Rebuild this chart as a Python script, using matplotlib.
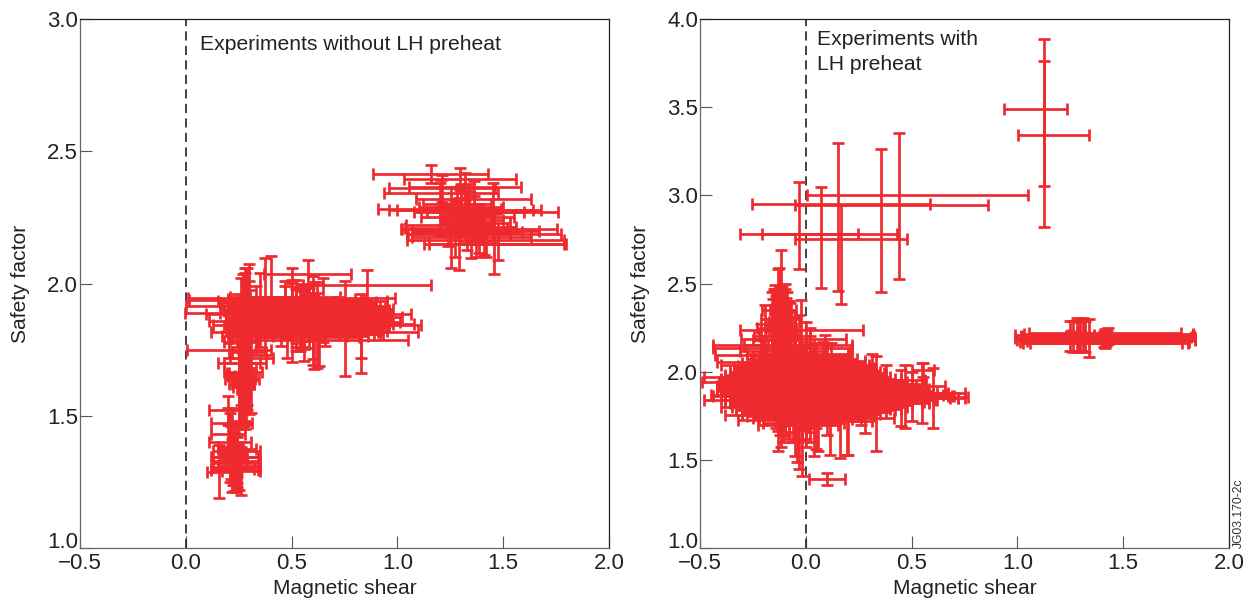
import matplotlib
matplotlib.use('Agg')
import matplotlib.pyplot as plt

plt.rcParams['font.family'] = ['Liberation Sans', 'DejaVu Sans']

RED = '#ee2a2e'
INK = '#222222'
W, H = 1256, 603

# ---- left panel: without LH preheat ----
upper_x = [1.157, 1.295, 1.21, 1.205, 1.32, 1.36, 1.2, 1.3, 1.34, 1.45, 1.255, 1.27, 1.29, 1.417, 1.455, 1.474, 1.385, 1.41, 1.24, 1.33,
           1.28, 1.3, 1.32, 1.34, 1.36, 1.38, 1.4, 1.37, 1.33, 1.35, 1.31]
upper_y = [2.413, 2.394, 2.36, 2.341, 2.366, 2.318, 2.28, 2.278, 2.278, 2.269, 2.211, 2.205, 2.187, 2.165, 2.15, 2.148, 2.205, 2.187, 2.22, 2.25,
           2.3, 2.29, 2.26, 2.27, 2.24, 2.23, 2.215, 2.2, 2.195, 2.175, 2.24]
upper_xerr = [0.27, 0.265, 0.25, 0.27, 0.265, 0.27, 0.29, 0.34, 0.34, 0.31, 0.22, 0.25, 0.24, 0.37, 0.33, 0.325, 0.37, 0.365, 0.2, 0.22,
              0.16, 0.2, 0.12, 0.26, 0.14, 0.15, 0.16, 0.3, 0.26, 0.28, 0.1]
upper_yerr = [0.034, 0.042, 0.05, 0.05, 0.05, 0.07, 0.1, 0.1, 0.1, 0.11, 0.154, 0.106, 0.136, 0.063, 0.113, 0.06, 0.09, 0.08, 0.08, 0.1,
              0.06, 0.08, 0.1, 0.06, 0.09, 0.07, 0.06, 0.1, 0.07, 0.08, 0.05]

lower_x = [0.576, 0.857, 0.5, 0.3, 0.27, 0.28, 0.58, 0.62, 0.607, 0.63, 0.204, 0.28, 0.27,
           0.402, 0.374, 0.35, 0.298, 0.24, 0.28, 0.33, 0.47, 0.52, 0.72, 0.83, 0.83, 0.75, 0.6, 0.65,
           0.55, 0.5, 0.56, 0.6, 0.52, 0.58, 0.62, 0.54, 0.6, 0.66, 0.45, 0.5, 0.56, 0.48, 0.58,
           0.265, 0.27, 0.255, 0.3, 0.25, 0.26, 0.31, 0.29]
lower_y = [2.035, 1.994, 1.947, 1.937, 1.915, 1.889, 1.884, 1.843, 1.817, 1.788, 1.748, 1.698, 1.666,
           1.95, 1.912, 1.9, 1.87, 1.86, 1.89, 1.86, 1.9, 1.87, 1.88, 1.81, 1.82, 1.83, 1.86, 1.9,
           1.935, 1.925, 1.915, 1.905, 1.895, 1.885, 1.875, 1.865, 1.855, 1.845, 1.835, 1.825, 1.808, 1.8, 1.87,
           1.64, 1.62, 1.66, 1.74, 1.7, 1.78, 1.72, 1.8]
lower_xerr = [0.207, 0.303, 0.488, 0.285, 0.27, 0.285, 0.485, 0.49, 0.49, 0.42, 0.197, 0.1, 0.09,
              0.1, 0.12, 0.09, 0.11, 0.13, 0.12, 0.14, 0.2, 0.25, 0.14, 0.1, 0.12, 0.12, 0.2, 0.16,
              0.4, 0.34, 0.39, 0.38, 0.34, 0.39, 0.4, 0.35, 0.41, 0.42, 0.27, 0.31, 0.36, 0.28, 0.38,
              0.08, 0.05, 0.06, 0.08, 0.1, 0.08, 0.1, 0.12]
lower_yerr = [0.052, 0.056, 0.11, 0.135, 0.12, 0.17, 0.1, 0.164, 0.14, 0.1, 0.028, 0.09, 0.05,
              0.154, 0.183, 0.14, 0.14, 0.1, 0.15, 0.13, 0.11, 0.11, 0.07, 0.15, 0.1, 0.18, 0.17, 0.12,
              0.06, 0.09, 0.07, 0.1, 0.12, 0.06, 0.09, 0.11, 0.14, 0.08, 0.07, 0.12, 0.1, 0.08, 0.06,
              0.18, 0.16, 0.2, 0.235, 0.22, 0.24, 0.21, 0.26]

# solid core of the left cluster
core_y = [1.95, 1.943, 1.936, 1.929, 1.922, 1.915, 1.908, 1.901, 1.894, 1.887, 1.88, 1.873, 1.866, 1.859, 1.852, 1.845, 1.838, 1.831, 1.824, 1.817, 1.81, 1.803, 1.796]
core_x = [0.47, 0.5, 0.52, 0.55, 0.55, 0.56, 0.57, 0.58, 0.58, 0.58, 0.58, 0.6, 0.58, 0.6, 0.58, 0.6, 0.58, 0.58, 0.56, 0.56, 0.55, 0.54, 0.52]
core_xerr = [0.26, 0.3, 0.32, 0.35, 0.35, 0.36, 0.37, 0.38, 0.38, 0.38, 0.38, 0.37, 0.38, 0.37, 0.38, 0.38, 0.38, 0.37, 0.36, 0.35, 0.34, 0.32, 0.3]
core_yerr = [0.04, 0.06, 0.05, 0.07, 0.05, 0.06, 0.08, 0.05, 0.07, 0.06, 0.05, 0.08, 0.06, 0.05, 0.07, 0.06, 0.08, 0.05, 0.07, 0.06, 0.05, 0.06, 0.05]

column_x = [0.25, 0.258, 0.266, 0.274, 0.282, 0.29, 0.262, 0.278, 0.254, 0.27, 0.286]
column_y = [1.65, 1.64, 1.66, 1.63, 1.65, 1.68, 1.62, 1.64, 1.61, 1.6, 1.62]
column_xerr = [0.05, 0.04, 0.06, 0.04, 0.05, 0.04, 0.06, 0.05, 0.03, 0.03, 0.03]
column_yerr = [0.19, 0.17, 0.2, 0.17, 0.17, 0.16, 0.16, 0.19, 0.14, 0.13, 0.15]

bottom_x = [0.2, 0.218, 0.21, 0.24, 0.23, 0.24, 0.25, 0.155, 0.22, 0.23, 0.24, 0.21, 0.2, 0.26,
            0.215, 0.222, 0.23, 0.238, 0.24, 0.235, 0.24, 0.24]
bottom_y = [1.521, 1.471, 1.4, 1.368, 1.345, 1.33, 1.31, 1.288, 1.3, 1.295, 1.35, 1.38, 1.43, 1.29,
            1.36, 1.35, 1.34, 1.33, 1.32, 1.345, 1.375, 1.305]
bottom_xerr = [0.09, 0.097, 0.1, 0.11, 0.11, 0.11, 0.1, 0.055, 0.1, 0.11, 0.05, 0.06, 0.08, 0.09,
               0.05, 0.05, 0.05, 0.05, 0.11, 0.11, 0.09, 0.11]
bottom_yerr = [0.055, 0.06, 0.07, 0.09, 0.09, 0.06, 0.09, 0.1, 0.09, 0.08, 0.12, 0.13, 0.1, 0.09,
               0.1, 0.11, 0.1, 0.12, 0.1, 0.05, 0.05, 0.06]

# ---- right panel: with LH preheat, separate points have lopsided bars ----
sparse_x = [1.125, 1.125, 0.441, 0.15, 0.355, -0.033, 0.071, 0.164]
sparse_y = [3.492, 3.343, 3.0, 2.953, 2.948, 2.779, 2.779, 2.751]
sparse_xlo = [0.936, 1.005, 0.006, -0.252, -0.052, -0.312, -0.208, -0.049]
sparse_xhi = [1.235, 1.338, 1.048, 0.586, 0.862, 0.429, 0.246, 0.479]
sparse_ylo = [3.055, 2.823, 2.528, 2.46, 2.454, 2.585, 2.477, 2.386]
sparse_yhi = [3.889, 3.759, 3.356, 3.294, 3.265, 3.078, 3.05, 2.944]

band_x = [1.415, 1.43, 1.41, 1.425, 1.42, 1.415, 1.43, 1.42, 1.425, 1.41, 1.42, 1.415]
band_y = [2.222, 2.216, 2.21, 2.204, 2.198, 2.192, 2.186, 2.18, 2.175, 2.17, 2.165, 2.162]
band_xerr = [0.36, 0.4, 0.42, 0.41, 0.4, 0.425, 0.41, 0.42, 0.38, 0.4, 0.36, 0.39]
band_yerr = [0.02, 0.03, 0.02, 0.025, 0.03, 0.02, 0.03, 0.025, 0.02, 0.03, 0.02, 0.03]

stem_x = [1.262, 1.28, 1.295, 1.31, 1.337, 1.32, 1.29, 1.25]
stem_y = [2.2, 2.21, 2.195, 2.21, 2.19, 2.2, 2.205, 2.205]
stem_xerr = [0.03, 0.04, 0.03, 0.05, 0.03, 0.04, 0.03, 0.02]
stem_yerr = [0.09, 0.093, 0.085, 0.093, 0.107, 0.09, 0.095, 0.085]

blob_x = [-0.022, -0.11, -0.058, -0.11, -0.11, -0.11, -0.1, -0.15, -0.1, -0.13, -0.12, -0.13, -0.1, -0.1, -0.038,
          0.35, 0.37, 0.33, 0.27, 0.25, 0.18, 0.26, 0.552, 0.098,
          -0.118, -0.128, -0.13, -0.145, -0.15, -0.14, -0.191, -0.21, -0.1, -0.12, -0.08, -0.13, -0.09, -0.11,
          0.09, 0.315, 0.27, 0.38, 0.47, 0.45, 0.5, 0.6, 0.55, 0.28, 0.33, 0.2, 0.16, 0.113, 0.197,
          -0.041, -0.03, -0.02, -0.118, -0.05, 0.0, 0.05, 0.1, 0.0, 0.05, 0.02, -0.03, 0.04, -0.05, 0.08, 0.12, 0.02, -0.08, 0.06]
blob_y = [2.239, 2.149, 2.188, 2.132, 2.094, 2.056, 2.037, 1.97, 1.943, 1.867, 1.84, 1.801, 1.754, 1.725, 1.697,
          1.858, 1.85, 1.878, 1.87, 1.88, 1.9, 1.83, 2.009, 1.394,
          2.35, 2.35, 2.3, 2.2, 2.18, 2.25, 2.15, 2.12, 2.2, 2.1, 2.15, 2.0, 2.0, 1.95,
          2.02, 1.95, 1.93, 1.92, 1.86, 1.85, 1.86, 1.85, 1.88, 1.84, 1.82, 1.79, 1.75, 1.72, 1.74,
          1.8, 1.78, 1.75, 1.78, 1.95, 1.98, 1.92, 1.9, 1.87, 1.84, 2.05, 2.02, 1.77, 1.82, 2.0, 1.96, 1.9, 1.86, 1.8]
blob_xerr = [0.29, 0.327, 0.25, 0.33, 0.32, 0.31, 0.3, 0.33, 0.39, 0.32, 0.36, 0.27, 0.28, 0.22, 0.19,
             0.415, 0.38, 0.33, 0.4, 0.42, 0.3, 0.3, 0.052, 0.085,
             0.05, 0.08, 0.08, 0.1, 0.1, 0.09, 0.1, 0.1, 0.12, 0.16, 0.12, 0.2, 0.16, 0.18,
             0.22, 0.25, 0.3, 0.28, 0.22, 0.23, 0.17, 0.12, 0.2, 0.33, 0.25, 0.2, 0.15, 0.2, 0.22,
             0.1, 0.14, 0.12, 0.1, 0.35, 0.34, 0.34, 0.42, 0.4, 0.43, 0.2, 0.2, 0.22, 0.3, 0.2, 0.16, 0.44, 0.36, 0.34]
blob_yerr = [0.17, 0.1, 0.12, 0.14, 0.13, 0.14, 0.15, 0.1, 0.16, 0.12, 0.14, 0.14, 0.1, 0.09, 0.09,
             0.06, 0.08, 0.07, 0.12, 0.16, 0.11, 0.13, 0.04, 0.034,
             0.34, 0.24, 0.28, 0.29, 0.28, 0.22, 0.23, 0.15, 0.3, 0.32, 0.25, 0.45, 0.3, 0.35,
             0.19, 0.15, 0.085, 0.12, 0.18, 0.16, 0.14, 0.17, 0.17, 0.19, 0.27, 0.26, 0.24, 0.19, 0.21,
             0.31, 0.33, 0.34, 0.21, 0.35, 0.3, 0.24, 0.26, 0.3, 0.28, 0.2, 0.3, 0.25, 0.3, 0.17, 0.2, 0.3, 0.2, 0.25]

# solid core of the right cluster
mass_y = [2.1, 2.09, 2.08, 2.07, 2.06, 2.05, 2.04, 2.03, 2.02, 2.01, 2.0, 1.99, 1.98, 1.97, 1.96, 1.95, 1.94, 1.93, 1.92, 1.91,
          1.9, 1.89, 1.88, 1.87, 1.86, 1.85, 1.84, 1.83, 1.82, 1.81, 1.8, 1.79, 1.78, 1.77, 1.76, 1.75, 1.74, 1.73, 1.71]
mass_x = [0.0, -0.025, 0.0, -0.02, 0.01, -0.01, 0.0, -0.01, -0.01, -0.005, -0.005, 0.005, 0.0, 0.01, 0.01, 0.025, 0.035, 0.05, 0.05, 0.065,
          0.09, 0.09, 0.11, 0.135, 0.16, 0.18, 0.12, 0.11, 0.095, 0.075, 0.065, 0.06, 0.045, 0.04, 0.025, 0.02, 0.015, 0.0, -0.01]
mass_xerr = [0.2, 0.225, 0.22, 0.26, 0.27, 0.29, 0.3, 0.31, 0.33, 0.335, 0.355, 0.365, 0.38, 0.39, 0.41, 0.425, 0.445, 0.45, 0.47, 0.485,
             0.49, 0.51, 0.51, 0.515, 0.54, 0.54, 0.5, 0.47, 0.455, 0.425, 0.415, 0.39, 0.375, 0.34, 0.325, 0.3, 0.265, 0.22, 0.19]
mass_yerr = [0.05, 0.04, 0.06, 0.05, 0.04, 0.06, 0.05, 0.04, 0.06, 0.05, 0.04, 0.05, 0.06, 0.04, 0.05, 0.06, 0.04, 0.05, 0.06, 0.04,
             0.05, 0.06, 0.04, 0.05, 0.04, 0.04, 0.05, 0.06, 0.04, 0.05, 0.06, 0.04, 0.05, 0.04, 0.05, 0.06, 0.04, 0.05, 0.04]

spine_x = [-0.16, -0.148, -0.136, -0.124, -0.112, -0.1, -0.088, -0.076, -0.13, -0.12,
           -0.14, -0.12, -0.1, -0.08, -0.06, -0.04, -0.02, 0.0, 0.02,
           -0.155, -0.142, -0.13, -0.118, -0.106, -0.094, -0.082, -0.07, -0.126, -0.114]
spine_y = [2.25, 2.26, 2.28, 2.3, 2.28, 2.26, 2.25, 2.22, 2.15, 2.18,
           1.8, 1.78, 1.76, 1.75, 1.74, 1.74, 1.74, 1.76, 1.78,
           2.24, 2.25, 2.27, 2.28, 2.27, 2.25, 2.24, 2.2, 2.32, 2.33]
spine_xerr = [0.03, 0.03, 0.04, 0.03, 0.04, 0.03, 0.04, 0.03, 0.05, 0.04,
              0.05, 0.04, 0.06, 0.05, 0.04, 0.05, 0.04, 0.05, 0.06,
              0.02, 0.02, 0.03, 0.02, 0.03, 0.02, 0.03, 0.02, 0.02, 0.02]
spine_yerr = [0.2, 0.21, 0.19, 0.18, 0.2, 0.21, 0.2, 0.17, 0.3, 0.28,
              0.12, 0.14, 0.12, 0.13, 0.14, 0.12, 0.13, 0.14, 0.12,
              0.17, 0.18, 0.18, 0.19, 0.18, 0.17, 0.16, 0.14, 0.14, 0.13]

x_ticks = [-0.5, 0.0, 0.5, 1.0, 1.5, 2.0]
left_yticks = [1.0, 1.5, 2.0, 2.5, 3.0]
right_yticks = [1.0, 1.5, 2.0, 2.5, 3.0, 3.5, 4.0]


def bars(ax, x, y, xerr, yerr):
    ax.errorbar(x, y, xerr=xerr, yerr=yerr, fmt='none', ecolor=RED,
                elinewidth=1.95, capsize=4.4, capthick=1.95, zorder=3)


def setup_panel(ax, y_ticks):
    ax.set_xlim(-0.5, 2.0)
    ax.set_ylim(y_ticks[0], y_ticks[-1])
    ax.set_xticks(x_ticks)
    ax.set_xticklabels(['\u22120.5', '0.0', '0.5', '1.0', '1.5', '2.0'])
    ax.set_yticks(y_ticks)
    ax.set_yticklabels([f'{v:.1f}' for v in y_ticks])
    ax.tick_params(direction='in', length=8.6, width=0.8, color='#555555',
                   labelsize=16, labelcolor=INK)
    ax.tick_params(axis='x', pad=3.5)
    ax.tick_params(axis='y', pad=1.5)
    # the bottom label sits above the axis corner in the original
    ax.get_yticklabels()[0].set_va('baseline')
    for side, spine in ax.spines.items():
        spine.set_linewidth(0.9)
        spine.set_color('#666666' if side in ('left', 'bottom') else '#222222')
    ax.axvline(0, color='#222222', lw=1.2, dashes=(5.5, 3.2), zorder=2)
    ax.set_xlabel('Magnetic shear', fontsize=15.1, color=INK, labelpad=4)
    ax.set_ylabel('Safety factor', fontsize=15.1, color=INK)
    ax.yaxis.set_label_coords(-0.094, 0.5)


fig = plt.figure(figsize=(W / 100, H / 100), dpi=100)
ax1 = fig.add_axes([80 / W, (H - 548) / H, 529 / W, 529 / H])
ax2 = fig.add_axes([700 / W, (H - 548) / H, 529 / W, 529 / H])

setup_panel(ax1, left_yticks)
setup_panel(ax2, right_yticks)

bars(ax1, upper_x, upper_y, upper_xerr, upper_yerr)
bars(ax1, lower_x, lower_y, lower_xerr, lower_yerr)
bars(ax1, core_x, core_y, core_xerr, core_yerr)
bars(ax1, column_x, column_y, column_xerr, column_yerr)
bars(ax1, bottom_x, bottom_y, bottom_xerr, bottom_yerr)

for i in range(len(sparse_x)):
    xe = [[sparse_x[i] - sparse_xlo[i]], [sparse_xhi[i] - sparse_x[i]]]
    ye = [[sparse_y[i] - sparse_ylo[i]], [sparse_yhi[i] - sparse_y[i]]]
    bars(ax2, [sparse_x[i]], [sparse_y[i]], xe, ye)
bars(ax2, band_x, band_y, band_xerr, band_yerr)
bars(ax2, stem_x, stem_y, stem_xerr, stem_yerr)
bars(ax2, blob_x, blob_y, blob_xerr, blob_yerr)
bars(ax2, mass_x, mass_y, mass_xerr, mass_yerr)
bars(ax2, spine_x, spine_y, spine_xerr, spine_yerr)

ax1.text(0.066, 2.905, 'Experiments without LH preheat', fontsize=15.2, color=INK, va='center')
ax2.text(0.052, 3.885, 'Experiments with', fontsize=15.2, color=INK, va='center')
ax2.text(0.052, 3.743, 'LH preheat', fontsize=15.2, color=INK, va='center')
fig.text(1239 / W, (H - 548) / H, 'JG03.170-2c', rotation=90, fontsize=8.7, color='#333333',
         ha='center', va='bottom')

fig.savefig('out.png', dpi=100)
